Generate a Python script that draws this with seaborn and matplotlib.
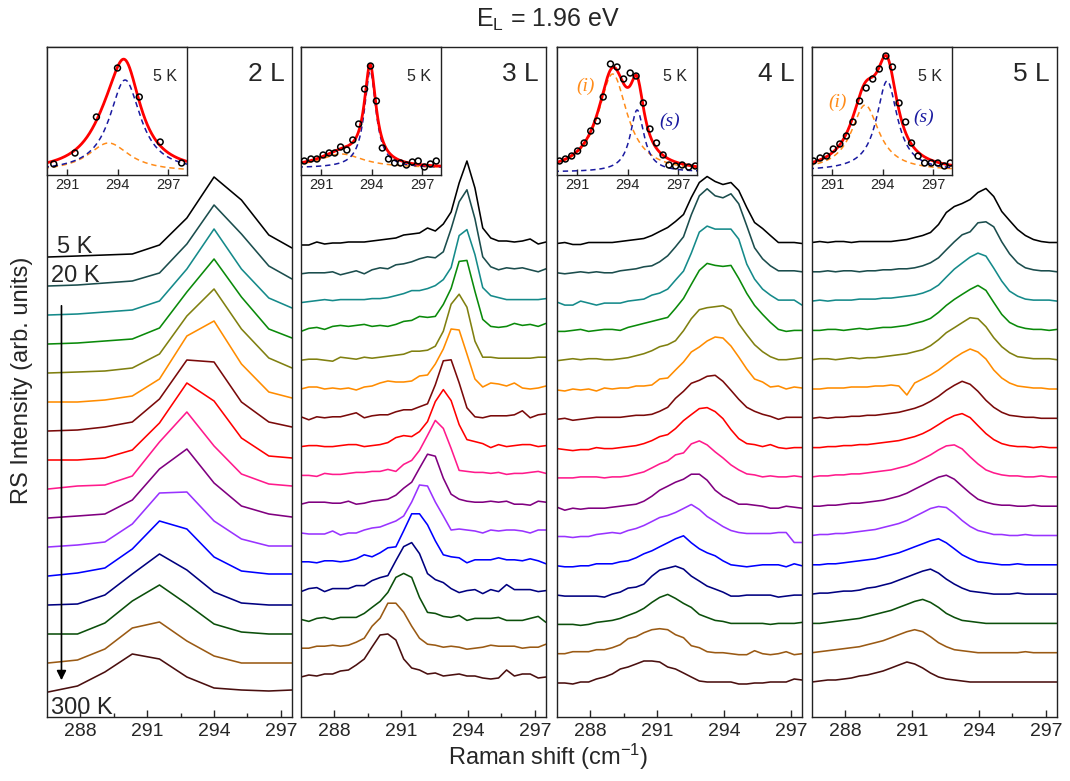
import numpy as np
import pandas as pd
import matplotlib.pyplot as plt
import seaborn as sns

temps = ['5 K', '20 K', '40 K', '60 K', '80 K', '100 K', '120 K', '140 K',
         '160 K', '180 K', '200 K', '220 K', '240 K', '260 K', '280 K', '300 K']
colors = ['#000000', '#1b4d4d', '#158a8a', '#0a8a0a', '#808010', '#ff8c00',
          '#7a0a0a', '#ff0000', '#ff1a8c', '#800080', '#9933ff', '#0000ff',
          '#000080', '#0b4f0b', '#9a5a14', '#4a0f0f']

# Raman shift grids (cm-1)
x_2L = [286.55, 287.87, 289.10, 290.33, 291.55, 292.78, 294.00, 295.23, 296.46, 297.50]
x_grid = [286.50, 286.85, 287.21, 287.56, 287.92, 288.27, 288.63, 288.98, 289.34, 289.69,
          290.05, 290.40, 290.76, 291.11, 291.47, 291.82, 292.18, 292.53, 292.89, 293.24,
          293.60, 293.95, 294.31, 294.66, 295.02, 295.37, 295.73, 296.08, 296.44, 296.79,
          297.15, 297.50]

# intensities above each curve's own baseline, 5 K (top) ... 300 K (bottom)
h_2L = [
    [0, 1, 2, 3, 12, 39, 80, 57, 22, 9],
    [0, 1, 3, 5, 13, 42, 81, 52, 20, 7],
    [0, 1, 3, 5, 14, 46, 86, 46, 17, 7],
    [0, 1, 3, 5, 16, 52, 85, 47, 15, 6],
    [0, 1, 2, 5, 19, 57, 84, 44, 15, 5],
    [0, 0, 2, 6, 23, 66, 81, 38, 10, 4],
    [0, 1, 4, 9, 32, 71, 69, 29, 9, 4],
    [0, 0, 2, 10, 37, 77, 59, 22, 4, 2],
    [0, 3, 4, 13, 47, 77, 43, 15, 5, 3],
    [0, 2, 4, 18, 49, 69, 35, 12, 4, 1],
    [0, 2, 5, 23, 54, 55, 26, 8, 1, 1],
    [0, 3, 8, 27, 55, 47, 19, 5, 2, 2],
    [0, 1, 10, 31, 51, 35, 13, 2, 0, 0],
    [0, 0, 11, 33, 49, 30, 10, 2, 0, 0],
    [0, 3, 14, 35, 41, 22, 7, 0, 0, 0],
    [0, 6, 20, 38, 33, 15, 4, 2, 1, 2],
]
h_3L = [
    [0, 0, 3, 1, 2, 2, 3, 3, 3, 4, 5, 6, 7, 10, 11, 12, 17, 14, 21, 33, 62, 84, 57, 17, 7, 4, 4, 3, 4, 6, 1, 3],
    [0, 1, 1, 1, 2, -1, 1, 3, 0, 4, 6, 5, 9, 10, 12, 15, 17, 16, 22, 45, 72, 84, 55, 17, 7, 4, 6, 5, 6, 4, 2, 5],
    [0, 1, 2, 3, 2, 3, 3, 3, 3, 4, 4, 5, 7, 9, 12, 12, 14, 17, 23, 35, 67, 73, 48, 15, 7, 5, 3, 3, 3, 3, 3, 4],
    [0, 3, 4, 2, 5, 6, 5, 6, 7, 5, 6, 5, 7, 10, 11, 15, 14, 15, 27, 43, 70, 71, 40, 12, 5, 4, 5, 8, 6, 7, 5, 8],
    [0, 1, 1, 0, -1, 3, 2, 1, 3, 2, 3, 4, 5, 6, 9, 9, 10, 14, 29, 56, 66, 53, 19, 3, 3, 2, 2, 2, 2, 2, 3, 3],
    [0, 2, 2, 0, 1, 0, 1, -1, 2, 3, 6, 8, 7, 7, 8, 13, 14, 25, 40, 60, 59, 35, 10, 2, 6, 5, 3, 6, 1, 0, 1, 3],
    [1, -2, 1, 0, 1, 1, 3, 5, 0, 2, 3, 3, 6, 8, 8, 11, 14, 33, 57, 58, 35, 10, 1, 0, 2, 2, 2, 3, 7, 0, 3, 4],
    [0, 1, 1, 0, 0, 1, 2, 2, 0, 1, 2, 4, 9, 11, 10, 15, 25, 45, 57, 46, 22, 7, 5, 3, -1, 2, 0, 1, 2, 2, 0, 1],
    [0, 0, -1, 2, 1, 1, 2, 3, 3, 4, 4, 6, 4, 11, 15, 25, 40, 55, 47, 27, 5, 4, 3, 3, 2, 3, 1, 2, 2, 3, 4, 2],
    [0, 2, 2, 2, 1, 1, 3, 0, 1, 3, 4, 5, 9, 16, 22, 36, 50, 48, 26, 10, 5, 3, 2, 2, 3, 2, 3, 0, 0, -1, 3, 2],
    [0, -1, -1, -1, 2, -2, 0, 0, 3, 5, 6, 9, 12, 17, 31, 48, 47, 31, 17, 3, 4, 3, 2, 0, 3, 2, 3, 3, 2, 0, 3, 3],
    [0, 0, -1, 1, 1, 0, 1, 3, 7, 5, 9, 14, 15, 31, 48, 48, 37, 21, 7, 5, 4, -1, 2, 2, 2, 4, 2, 2, 1, 3, 1, -2],
    [-1, 2, 3, -1, 2, 2, 2, 5, 5, 10, 13, 15, 30, 44, 48, 37, 17, 11, 8, 2, -2, 0, 1, -3, 1, -1, 6, 1, 1, 1, -1, 0],
    [0, -2, 1, 2, 0, 2, 2, 2, 6, 12, 18, 27, 42, 46, 42, 22, 7, 6, 3, 2, 4, -1, 1, 1, 1, 2, -1, -1, -1, 1, 3, -3],
    [0, 0, 2, 2, 3, 2, 3, 6, 10, 22, 30, 45, 45, 36, 22, 10, 4, 3, 1, 2, 1, -1, 0, 1, 3, 2, 2, 2, 0, 1, 1, 4],
    [0, 2, 1, 3, 3, 6, 7, 12, 18, 30, 42, 43, 37, 18, 9, 7, 3, 4, 1, 2, 3, 1, 1, -1, -2, -1, 7, 1, 3, 3, -1, 0],
]
h_4L = [
    [0, 1, -1, -1, 1, 1, 1, 1, 2, 3, 4, 5, 8, 12, 16, 22, 29, 46, 61, 67, 62, 59, 61, 53, 36, 21, 15, 8, 1, 1, 1, 0],
    [0, -1, 0, 1, 0, 1, 0, 0, 2, 3, 4, 6, 7, 11, 17, 26, 36, 58, 77, 84, 77, 75, 79, 69, 47, 25, 14, 7, 2, 2, 2, 1],
    [0, -3, -3, 1, -1, -3, -1, -1, -1, 1, 2, 3, 7, 9, 13, 22, 31, 49, 70, 76, 73, 73, 73, 63, 38, 23, 13, 7, 2, 2, 2, -3],
    [0, 0, 1, 2, 0, 1, 2, 2, 1, 4, 6, 8, 10, 12, 14, 23, 33, 47, 61, 68, 66, 65, 66, 53, 38, 26, 17, 9, 2, 0, 1, 1],
    [0, 1, 2, 1, 2, 2, 1, 1, 2, 3, 5, 7, 10, 14, 16, 20, 30, 42, 51, 53, 54, 55, 51, 37, 26, 16, 9, 4, 1, 1, 2, 3],
    [0, -1, 1, 0, 1, -1, 2, 1, 2, 2, 4, 4, 5, 11, 12, 20, 28, 38, 43, 49, 53, 52, 44, 33, 21, 11, 8, 3, 4, 1, 3, 2],
    [0, 1, -1, 0, 1, 2, 2, 2, 2, 3, 4, 4, 5, 8, 12, 21, 28, 36, 39, 43, 44, 38, 29, 20, 12, 8, 5, 3, 0, 2, 2, 2],
    [0, -1, -2, -1, -1, 1, 0, 0, 1, 2, 3, 5, 8, 12, 14, 20, 28, 34, 40, 41, 37, 30, 19, 10, 5, 4, 2, 4, 1, 0, 1, 1],
    [0, 0, 0, 1, 1, 1, 0, 1, 1, 2, 4, 6, 10, 14, 17, 23, 25, 34, 37, 33, 26, 20, 13, 8, 4, 3, 1, 2, 1, 1, 2, 1],
    [0, -3, -1, -2, -1, -1, -1, 0, 1, 2, 3, 6, 11, 17, 21, 25, 28, 33, 33, 27, 17, 11, 7, 3, 3, 2, 1, -1, -1, 1, 0, -1],
    [0, 0, -1, 0, 0, 2, 3, 4, 3, 6, 8, 11, 15, 19, 21, 24, 28, 32, 27, 20, 15, 10, 6, 4, 3, 3, 3, 3, 4, 4, -6, -6],
    [0, -1, -1, 0, 0, 2, 2, 2, 4, 5, 8, 12, 15, 19, 23, 27, 30, 23, 17, 13, 10, 5, 1, 0, -1, 0, 1, 1, 1, -1, 2, 0],
    [0, -1, -1, -1, -1, -1, -2, 1, 3, 7, 8, 11, 19, 25, 27, 29, 26, 19, 14, 9, 6, 3, -1, -1, 0, 0, 0, 0, -2, -1, 0, 0],
    [0, 0, 0, -1, 0, 2, 3, 4, 6, 9, 12, 16, 22, 27, 30, 26, 21, 17, 10, 7, 4, 3, 1, 1, 1, 1, 1, 0, 1, 1, 1, 2],
    [0, 0, 2, 2, 2, 4, 4, 6, 9, 15, 17, 21, 24, 25, 24, 19, 16, 8, 6, 2, 1, 1, 0, -1, -1, 3, 0, -1, 0, 2, -1, 0],
    [0, 0, -1, 1, 1, 4, 6, 9, 14, 16, 19, 22, 22, 21, 16, 14, 10, 6, 2, 1, 1, 1, 1, -1, -1, 0, 0, 1, 1, 1, 4, 3],
]
h_5L = [
    [0, 1, 0, 1, 1, 0, 1, 1, 1, 1, 1, 2, 3, 5, 7, 10, 18, 30, 36, 39, 43, 50, 54, 46, 31, 22, 13, 7, 3, 1, 0, 0],
    [0, 0, 1, 0, 1, 1, 0, 1, 1, 2, 2, 3, 3, 4, 6, 9, 14, 22, 30, 37, 40, 49, 50, 45, 30, 18, 9, 4, 2, 1, 1, 0],
    [0, 1, 0, 1, 1, 1, 2, 2, 2, 3, 3, 4, 5, 6, 8, 11, 16, 24, 32, 38, 44, 48, 45, 33, 20, 10, 5, 2, 1, 1, 1, 0],
    [0, 0, 1, 1, 0, 1, 2, 1, 2, 3, 3, 4, 5, 7, 9, 12, 18, 25, 31, 36, 41, 45, 40, 28, 16, 8, 4, 2, 1, 1, 0, 1],
    [0, 1, 1, 0, 1, 2, 1, 2, 2, 3, 4, 5, 6, 8, 10, 14, 20, 27, 32, 37, 42, 41, 33, 22, 13, 7, 3, 2, 1, 1, 1, 0],
    [0, 0, 1, 1, 1, 2, 2, 2, 3, 3, 4, 3, -6, 6, 10, 14, 19, 25, 31, 36, 40, 37, 30, 19, 11, 6, 3, 2, 1, 1, 0, 0],
    [0, 1, 0, 1, 1, 2, 2, 3, 3, 4, 5, 6, 8, 10, 13, 17, 22, 28, 33, 37, 34, 27, 18, 11, 6, 3, 2, 1, 1, 0, 0, 0],
    [0, 0, 1, 1, 2, 2, 3, 3, 4, 5, 6, 7, 9, 11, 14, 18, 23, 28, 32, 34, 30, 22, 14, 8, 4, 2, 1, 1, 0, 1, 0, 0],
    [0, 1, 1, 2, 2, 3, 3, 4, 5, 6, 7, 9, 11, 14, 18, 22, 27, 31, 32, 28, 20, 13, 7, 4, 2, 1, 1, 0, 0, 1, 0, 0],
    [0, 0, 1, 1, 2, 3, 3, 4, 5, 6, 8, 10, 13, 17, 21, 25, 29, 31, 27, 20, 13, 7, 4, 2, 1, 1, 0, 0, 1, 0, 0, 0],
    [0, 1, 1, 2, 2, 3, 4, 5, 6, 8, 10, 12, 15, 19, 23, 27, 29, 28, 22, 15, 9, 5, 3, 1, 1, 0, 0, 1, 0, 0, 0, 0],
    [0, 0, 1, 1, 2, 3, 4, 5, 6, 8, 10, 12, 15, 18, 21, 24, 26, 22, 16, 10, 6, 3, 2, 1, 0, 0, 1, 0, 0, 0, 0, 0],
    [0, 1, 1, 2, 3, 3, 4, 6, 7, 9, 11, 14, 17, 20, 23, 25, 21, 15, 10, 6, 3, 2, 1, 0, 0, 0, 1, 0, 0, 0, 0, 0],
    [0, 0, 1, 2, 3, 4, 5, 7, 9, 11, 13, 16, 19, 22, 24, 21, 16, 10, 6, 3, 2, 1, 0, 0, 0, 0, 0, 0, 0, 0, 0, 0],
    [0, 1, 2, 3, 4, 5, 6, 8, 10, 12, 15, 18, 21, 23, 21, 16, 10, 6, 3, 2, 1, 0, 0, 0, 0, 0, 0, 1, 0, 0, 0, 0],
    [0, 1, 2, 2, 3, 4, 6, 7, 9, 11, 14, 17, 20, 18, 14, 9, 5, 3, 2, 1, 0, 0, 0, 0, 0, 0, 0, 0, 0, 0, 0, 0],
]

# 5 K inset: measured points
ins_x_2L = [290.2, 291.46, 292.73, 293.98, 295.27, 296.51, 297.78]
ins_y_2L = [11, 22, 58, 107, 78, 33, 12]
ins_x_3L = [290.0, 290.39, 290.74, 291.11, 291.47, 291.8, 292.15, 292.52, 292.87, 293.22, 293.57, 293.92,
            294.27, 294.62, 294.99, 295.35, 295.7, 296.05, 296.4, 296.75, 297.12, 297.47, 297.82]
ins_y_3L = [14, 16, 16, 20, 22, 22, 28, 25, 35, 51, 86, 109, 74, 27, 16, 12, 12, 10, 13, 14, 8, 11, 14]
ins_x_4L = [289.95, 290.3, 290.67, 291.02, 291.41, 291.8, 292.19, 292.54, 292.97, 293.36, 293.75, 294.14,
            294.49, 294.92, 295.31, 295.7, 296.09, 296.44, 296.83, 297.22, 297.61, 298.0]
ins_y_4L = [14, 16, 19, 24, 32, 44, 54, 78, 111, 108, 96, 102, 99, 72, 46, 32, 20, 10, 9, 10, 8, 9]
ins_x_5L = [289.89, 290.28, 290.67, 291.06, 291.45, 291.84, 292.23, 292.62, 293.01, 293.4, 293.79, 294.18,
            294.57, 294.96, 295.35, 295.7, 296.09, 296.48, 296.87, 297.26, 297.65, 298.0]
ins_y_5L = [14, 17, 19, 26, 31, 39, 53, 74, 87, 96, 106, 119, 108, 72, 53, 32, 19, 12, 12, 12, 9, 12]

# Lorentzian fit parameters: background, (s) peak and (i) peak as (centre, HWHM, amplitude)
fit_2L = (3, (294.43, 1.12, 92), (293.45, 1.5, 29))
fit_3L = (7, (293.9, 0.42, 97), (292.2, 1.6, 14))
fit_4L = (3, (294.55, 0.5, 62), (293.1, 1.05, 98))
fit_5L = (4, (294.25, 0.75, 90), (292.95, 1.0, 66))

panels = [
    ('2 L', x_2L, h_2L, 25, 29.0, ins_x_2L, ins_y_2L, fit_2L, False),
    ('3 L', x_grid, h_3L, 40, 28.8, ins_x_3L, ins_y_3L, fit_3L, False),
    ('4 L', x_grid, h_4L, 34, 29.3, ins_x_4L, ins_y_4L, fit_4L, True),
    ('5 L', x_grid, h_5L, 35, 29.3, ins_x_5L, ins_y_5L, fit_5L, True),
]
ilabel_pos = {'4 L': ((0.207, 0.695), (0.807, 0.42)), '5 L': ((0.179, 0.566), (0.80, 0.45))}


def lorentz(x, x0, w, a):
    return a / (1 + ((x - x0) / w) ** 2)


sns.set_style('ticks')
plt.rcParams['font.family'] = ['Liberation Sans', 'DejaVu Sans']
plt.rcParams['mathtext.default'] = 'regular'

W, H = 1070.0, 781.0
fig = plt.figure(figsize=(W / 100, H / 100), dpi=100)
lefts = [47, 301, 557, 812]

for k, (lab, xs, hs, y0, dy, ix, iy, fit, show_labels) in enumerate(panels):
    ax = fig.add_axes([lefts[k] / W, 64 / H, 245 / W, 670 / H])
    rows = []
    for j, (t, h) in enumerate(zip(temps, hs)):
        off = y0 + dy * (len(temps) - 1 - j)
        for xv, hv in zip(xs, h):
            rows.append((t, xv, off + hv))
    df = pd.DataFrame(rows, columns=['T', 'shift', 'I'])
    sns.lineplot(data=df, x='shift', y='I', hue='T', hue_order=temps, palette=colors,
                 estimator=None, sort=False, legend=False, lw=1.15, ax=ax)
    ax.set_xlim(286.5, 297.5)
    ax.set_ylim(0, 670)
    ax.set_xticks([288, 291, 294, 297])
    ax.set_xticks([289.5, 292.5, 295.5], minor=True)
    ax.set_yticks([])
    ax.set_xlabel('')
    ax.set_ylabel('')
    ax.tick_params(axis='x', which='major', direction='in', labelsize=14, length=5, width=1, pad=4)
    ax.tick_params(axis='x', which='minor', direction='in', length=3, width=1)
    for s in ax.spines.values():
        s.set_linewidth(1.0)
        s.set_color('#222222')
    ax.text(0.971, 0.949, lab, transform=ax.transAxes, ha='right', va='baseline', fontsize=19)

    if k == 0:
        ax.text(286.97, 464, '5 K', fontsize=17, va='baseline')
        ax.text(286.66, 435, '20 K', fontsize=17, va='baseline')
        ax.text(286.66, 3, '300 K', fontsize=17, va='baseline')
        ax.annotate('', xy=(287.15, 34), xytext=(287.15, 414),
                    arrowprops=dict(arrowstyle='-|>', color='k', lw=1.2, mutation_scale=14))

    # inset with the 5 K fit
    axi = fig.add_axes([lefts[k] / W, (H - 175) / H, 140 / W, 128 / H])
    base, sp, ip = fit
    xf = np.linspace(289.6, 298.3, 400)
    sns.lineplot(x=xf, y=base + lorentz(xf, *ip), color='#ff8c1a', lw=1.1,
                 linestyle=(0, (3.5, 2.5)), ax=axi)
    sns.lineplot(x=xf, y=base + lorentz(xf, *sp), color='#1a1aa0', lw=1.1,
                 linestyle=(0, (3.5, 2.5)), ax=axi)
    sns.lineplot(x=xf, y=base + lorentz(xf, *sp) + lorentz(xf, *ip), color='#ff0000', lw=2.0, ax=axi)
    sns.scatterplot(x=ix, y=iy, marker='o', s=18, facecolor='none', edgecolor='k',
                    linewidth=1.1, zorder=5, ax=axi)
    axi.set_xlim(289.8, 298.1)
    axi.set_ylim(0, 128)
    axi.set_xticks([291, 294, 297])
    axi.set_yticks([])
    axi.tick_params(axis='x', direction='in', labelsize=10.5, length=4, width=1, pad=2)
    for s in axi.spines.values():
        s.set_linewidth(1.0)
        s.set_color('#222222')
    axi.text(0.93, 0.734, '5 K', transform=axi.transAxes, ha='right', va='baseline', fontsize=11.5)
    if show_labels:
        pi, ps = ilabel_pos[lab]
        axi.text(*pi, '(i)', transform=axi.transAxes, ha='center', va='center', fontsize=14,
                 color='#ff8c1a', family=['Liberation Serif', 'DejaVu Serif'], style='italic')
        axi.text(*ps, '(s)', transform=axi.transAxes, ha='center', va='center', fontsize=14,
                 color='#1a1aa0', family=['Liberation Serif', 'DejaVu Serif'], style='italic')

fig.text(548 / W, 1 - 20 / H, r'E$_L$ = 1.96 eV', ha='center', va='center', fontsize=18)
fig.text(548 / W, 1 - 757 / H, r'Raman shift (cm$^{-1}$)', ha='center', va='center', fontsize=17)
fig.text(22 / W, 1 - 380 / H, 'RS Intensity (arb. units)', rotation=90, ha='center', va='center',
         fontsize=17)

fig.savefig('out.png', dpi=100)
